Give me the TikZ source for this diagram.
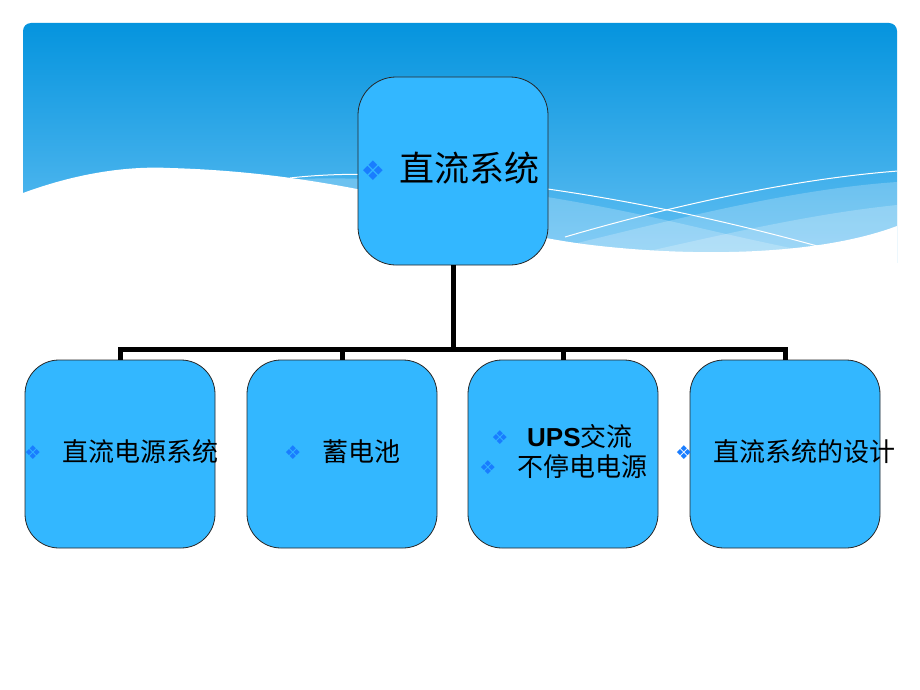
\documentclass[tikz,border=0pt]{standalone}
\usepackage{fontspec}
\setmainfont{Liberation Serif}
\newfontfamily\cjk{Noto Sans CJK SC}
\newfontfamily\dv{DejaVu Sans}
\newfontfamily\ar{Liberation Sans}
\definecolor{bannerTop}{RGB}{5,148,222}
\definecolor{bannerMid}{RGB}{45,168,232}
\definecolor{bannerBot}{RGB}{100,192,243}
\definecolor{boxfill}{RGB}{51,183,255}
\definecolor{bulletc}{RGB}{25,125,255}
\begin{document}
\begin{tikzpicture}[x=1pt,y=-1pt,
  box/.style={draw=black!85, line width=0.8pt, fill=boxfill, rounded corners=34pt,
              minimum width=190pt, minimum height=188pt, inner sep=0pt},
  conn/.style={line width=5pt, black, line join=miter},
  lbl/.style={anchor=west, inner sep=0pt, font=\cjk\fontsize{26}{30}\selectfont},
  bigl/.style={anchor=west, inner sep=0pt, font=\cjk\fontsize{35}{40}\selectfont},
  bul/.style={inner sep=0pt, text=bulletc, font=\dv\fontsize{19}{19}\selectfont},
  bigbul/.style={inner sep=0pt, text=bulletc, font=\dv\fontsize{27}{27}\selectfont},
  band/.style={fill=white, fill opacity=0.22},
  wline/.style={draw=white, line width=1pt}]
\useasboundingbox (0,0) rectangle (920,690);
\fill[white] (0,0) rectangle (920,690);
% banner
\begin{scope}
\clip[rounded corners=8pt] (23,23) rectangle (897,340);
\shade[top color=bannerTop, middle color=bannerMid, bottom color=bannerBot] (23,23) rectangle (897,262);
\path[band] (270,180) .. controls (420,172) and (560,195) .. (700,228) .. controls (760,242) and (800,250) .. (830,256) -- (830,300) -- (270,300) -- cycle;
\path[band] (540,252) .. controls (650,226) and (780,190) .. (897,182) -- (897,300) -- (540,300) -- cycle;
\path[band] (600,262) .. controls (700,240) and (800,215) .. (897,205) -- (897,300) -- (600,300) -- cycle;
\fill[white] (23,193) .. controls (80,172) and (130,166) .. (170,168) .. controls (240,170) and (300,178) .. (357,189)
  .. controls (450,210) and (500,235) .. (600,246) .. controls (700,257) and (820,255) .. (897,226) -- (897,340) -- (23,340) -- cycle;
\draw[wline] (290,178) .. controls (400,165) and (600,185) .. (828,249);
\draw[wline] (565,237) .. controls (650,212) and (780,180) .. (898,171);
\end{scope}
% boxes
\node[box, rounded corners=38pt] (top) at (453,171) {};
\node[box] (b1) at (120,454) {};
\node[box] (b2) at (342,454) {};
\node[box] (b3) at (563,454) {};
\node[box] (b4) at (785,454) {};
% connectors
\coordinate (bus) at (453,349);
\draw[conn] (top.south) -- (bus);
\draw[conn] (b1.north) -- (b1.north |- bus) -- (b4.north |- bus) -- (b4.north);
\draw[conn] (b2.north) -- (b2.north |- bus);
\draw[conn] (b3.north) -- (b3.north |- bus);
% texts
\node[bigbul] (tb) at (373,171) {❖};
\node[bigl] (tt) at (399,168) {直流系统};
\node[bul] (u1) at (33,453) {❖};
\node[lbl] (t1) at (62,452) {直流电源系统};
\node[bul] (u2) at (293,453) {❖};
\node[lbl] (t2) at (322,452) {蓄电池};
\node[bul] (u3a) at (500,438) {❖};
\node[lbl] (t3a) at (527,437) {{\ar\bfseries UPS}交流};
\node[bul] (u3b) at (488,468) {❖};
\node[lbl] (t3b) at (517,467) {不停电电源};
\node[bul] (u4) at (684,453) {❖};
\node[lbl] (t4) at (713,452) {直流系统的设计};
\end{tikzpicture}
\end{document}
